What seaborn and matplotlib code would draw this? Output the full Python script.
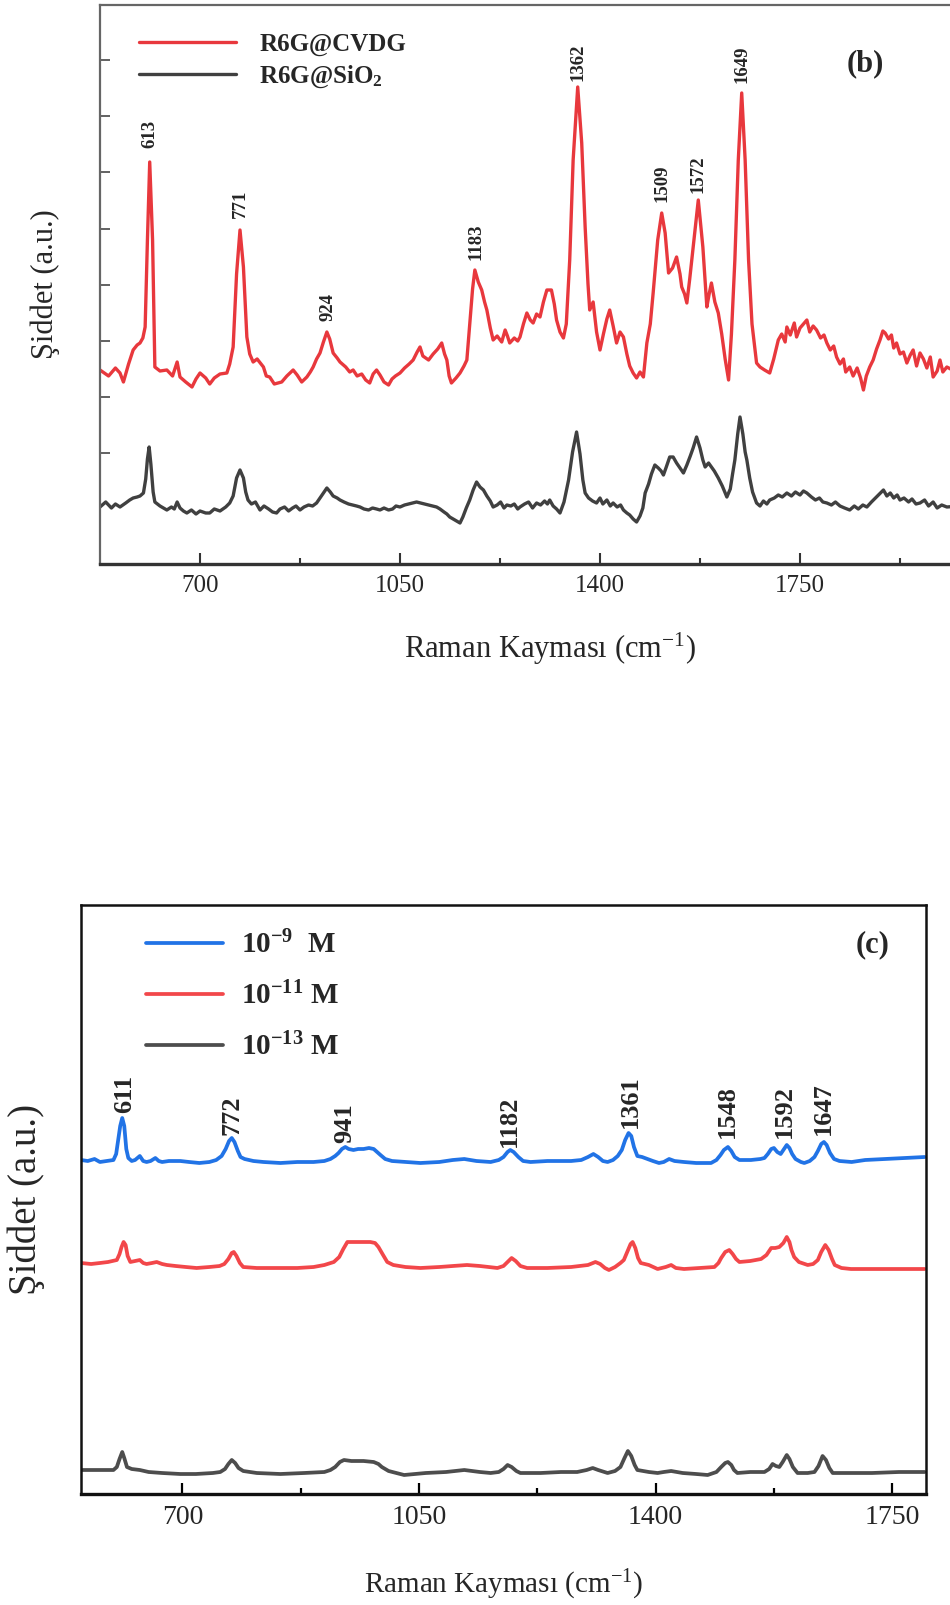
import numpy as np
import matplotlib
matplotlib.use("Agg")
import matplotlib.pyplot as plt
import seaborn as sns

# ---- panel (b): R6G on CVD graphene vs SiO2 ----
b_cvdg_x = [525, 540, 552, 560, 566, 575, 583, 590, 595, 600, 604, 608, 612, 617, 621, 630, 642, 652, 660, 665,
            675, 686, 693, 700, 710, 717, 725, 735, 747, 752, 758, 764, 770, 776, 782, 787, 793, 800, 811, 816,
            822, 830, 843, 852, 863, 870, 878, 887, 893, 898, 904, 910, 916, 922, 927, 933, 940, 945, 955, 962,
            968, 975, 983, 990, 997, 1003, 1009, 1015, 1022, 1030, 1036, 1042, 1050, 1058, 1066, 1073, 1080, 1085, 1090, 1100,
            1108, 1116, 1123, 1128, 1132, 1136, 1140, 1148, 1155, 1162, 1167, 1172, 1177, 1181, 1187, 1193, 1198, 1202, 1208, 1213,
            1220, 1228, 1234, 1238, 1242, 1250, 1256, 1260, 1266, 1272, 1278, 1283, 1289, 1295, 1301, 1307, 1315, 1320, 1324, 1330,
            1336, 1341, 1347, 1353, 1361, 1368, 1374, 1379, 1382, 1388, 1394, 1400, 1406, 1412, 1417, 1423, 1429, 1435, 1441, 1447,
            1452, 1458, 1464, 1470, 1476, 1482, 1488, 1493, 1501, 1508, 1514, 1520, 1527, 1534, 1540, 1543, 1548, 1552, 1557, 1563,
            1572, 1580, 1587, 1591, 1595, 1601, 1607, 1613, 1619, 1625, 1630, 1636, 1642, 1648, 1654, 1660, 1666, 1674, 1680, 1688,
            1697, 1704, 1712, 1718, 1724, 1727, 1733, 1740, 1744, 1750, 1756, 1762, 1767, 1773, 1779, 1786, 1792, 1797, 1803, 1809,
            1814, 1820, 1826, 1830, 1837, 1843, 1850, 1856, 1861, 1866, 1872, 1878, 1884, 1890, 1895, 1899, 1905, 1910, 1914, 1919,
            1925, 1931, 1937, 1943, 1948, 1954, 1960, 1966, 1972, 1978, 1983, 1990, 1995, 2000, 2007, 2030]
b_cvdg_y = [194, 188, 196, 191, 182, 200, 214, 219, 221, 226, 237, 324, 402, 324, 197, 193, 194, 188, 202, 187,
            182, 177, 185, 191, 186, 180, 186, 190, 191, 200, 217, 290, 334, 297, 227, 210, 202, 205, 197, 188,
            187, 180, 182, 188, 194, 189, 182, 187, 192, 197, 205, 211, 222, 232, 225, 211, 206, 202, 197, 192,
            194, 188, 190, 184, 181, 190, 194, 189, 182, 179, 185, 188, 191, 196, 200, 204, 212, 217, 208, 204,
            210, 215, 221, 210, 204, 188, 181, 186, 191, 198, 204, 240, 275, 294, 282, 274, 262, 254, 236, 224,
            228, 222, 234, 228, 221, 226, 223, 227, 240, 251, 244, 241, 250, 247, 262, 274, 274, 260, 244, 232,
            226, 240, 304, 404, 477, 421, 337, 280, 254, 262, 232, 214, 230, 245, 254, 238, 221, 232, 227, 210,
            198, 191, 186, 192, 187, 221, 240, 271, 324, 351, 331, 291, 296, 307, 290, 277, 270, 261, 285, 317,
            364, 317, 257, 270, 281, 262, 251, 230, 205, 184, 230, 304, 404, 471, 404, 304, 240, 201, 197, 194,
            191, 205, 224, 230, 222, 237, 229, 241, 227, 236, 240, 244, 232, 238, 234, 226, 229, 221, 214, 218,
            207, 200, 205, 192, 197, 188, 196, 186, 174, 188, 197, 204, 215, 224, 233, 231, 225, 229, 216, 221,
            210, 212, 201, 209, 214, 198, 211, 205, 196, 207, 187, 193, 204, 192, 197, 190]

b_sio2_x = [525, 535, 545, 552, 560, 570, 577, 583, 590, 595, 601, 605, 608, 611, 614, 618, 621, 630, 642, 650,
            655, 660, 665, 671, 677, 685, 693, 700, 710, 717, 725, 735, 745, 752, 758, 764, 770, 776, 780, 784,
            790, 797, 805, 812, 820, 827, 834, 840, 848, 855, 862, 868, 875, 882, 890, 897, 904, 910, 916, 922,
            928, 933, 940, 945, 952, 960, 967, 974, 980, 987, 995, 1002, 1009, 1015, 1022, 1030, 1037, 1043, 1050, 1058,
            1065, 1072, 1079, 1086, 1093, 1100, 1107, 1114, 1120, 1127, 1132, 1137, 1143, 1149, 1155, 1160, 1166, 1172, 1178, 1184,
            1190, 1196, 1202, 1208, 1213, 1220, 1226, 1232, 1237, 1244, 1250, 1256, 1260, 1268, 1275, 1282, 1289, 1296, 1303, 1308,
            1312, 1318, 1324, 1330, 1337, 1345, 1352, 1359, 1365, 1370, 1374, 1380, 1387, 1394, 1400, 1405, 1412, 1418, 1423, 1430,
            1436, 1441, 1447, 1452, 1458, 1464, 1470, 1475, 1479, 1485, 1490, 1496, 1502, 1507, 1511, 1516, 1522, 1528, 1534, 1540,
            1546, 1552, 1558, 1563, 1569, 1575, 1580, 1584, 1590, 1595, 1600, 1607, 1614, 1622, 1628, 1632, 1636, 1641, 1645, 1650,
            1654, 1657, 1662, 1667, 1674, 1680, 1686, 1692, 1697, 1705, 1712, 1719, 1727, 1735, 1742, 1750, 1756, 1762, 1770, 1777,
            1784, 1790, 1797, 1805, 1812, 1820, 1828, 1837, 1845, 1852, 1860, 1867, 1875, 1882, 1889, 1896, 1902, 1908, 1914, 1920,
            1925, 1932, 1940, 1946, 1953, 1960, 1968, 1975, 1983, 1990, 1998, 2007, 2030]
b_sio2_y = [57, 62, 56, 60, 57, 61, 64, 66, 67, 68, 71, 85, 105, 117, 100, 72, 62, 58, 54, 57,
            55, 62, 56, 53, 51, 54, 50, 53, 51, 51, 55, 53, 57, 61, 68, 86, 94, 86, 72, 64,
            60, 62, 54, 58, 55, 52, 51, 55, 57, 53, 56, 58, 54, 57, 59, 58, 61, 66, 71, 76,
            72, 68, 66, 64, 62, 60, 59, 58, 57, 55, 54, 56, 55, 54, 56, 54, 55, 58, 57, 59,
            60, 61, 62, 61, 60, 59, 58, 57, 55, 52, 50, 47, 45, 43, 41, 47, 56, 64, 74, 82,
            77, 74, 68, 63, 57, 59, 62, 56, 59, 58, 60, 55, 57, 60, 62, 56, 61, 59, 63, 60,
            64, 58, 55, 51, 62, 84, 112, 132, 110, 84, 71, 66, 63, 61, 66, 60, 64, 58, 61, 57,
            59, 54, 51, 49, 45, 42, 48, 56, 71, 80, 90, 99, 96, 93, 89, 97, 107, 107, 101, 96,
            91, 99, 108, 116, 127, 116, 104, 97, 101, 97, 93, 86, 78, 67, 75, 90, 104, 130, 147, 130,
            112, 104, 86, 72, 61, 58, 63, 60, 64, 66, 69, 67, 71, 68, 72, 69, 73, 71, 67, 64,
            66, 62, 61, 59, 62, 58, 56, 54, 58, 55, 59, 57, 62, 66, 70, 74, 68, 71, 66, 69,
            64, 66, 62, 65, 60, 61, 64, 58, 62, 56, 59, 57, 58]

b_peaks = ["613", "771", "924", "1183", "1362", "1509", "1572", "1649"]
b_peak_label_y = [416, 346, 243, 304, 483, 362, 371, 481]

# ---- panel (c): concentration series ----
c_1e9_x = [550, 560, 570, 578, 588, 598, 602, 605, 608, 611, 614, 617, 620, 625, 630, 637, 642, 647, 653, 660,
           665, 670, 680, 697, 710, 725, 740, 750, 758, 764, 769, 773, 777, 782, 786, 792, 805, 820, 845, 870,
           894, 910, 919, 926, 931, 936, 941, 946, 953, 960, 968, 976, 983, 988, 993, 1000, 1010, 1030, 1052, 1080,
           1100, 1117, 1135, 1156, 1168, 1175, 1181, 1185, 1190, 1197, 1204, 1215, 1240, 1275, 1290, 1300, 1308, 1315, 1322, 1329,
           1337, 1344, 1350, 1355, 1360, 1364, 1368, 1373, 1380, 1388, 1396, 1405, 1412, 1420, 1428, 1442, 1460, 1475, 1482, 1490,
           1496, 1501, 1507, 1512, 1517, 1524, 1541, 1555, 1561, 1566, 1571, 1575, 1580, 1585, 1590, 1594, 1598, 1602, 1607, 1615,
           1620, 1628, 1635, 1640, 1645, 1649, 1653, 1658, 1664, 1672, 1690, 1710, 1739, 1770, 1798]
c_1e9_y = [334, 333, 335, 332, 333, 334, 340, 354, 368, 376, 368, 345, 336, 333, 334, 338, 333, 332, 333, 336,
           333, 332, 333, 333, 332, 331, 332, 334, 338, 345, 353, 356, 352, 343, 337, 335, 333, 332, 331, 332,
           332, 333, 335, 338, 341, 345, 347, 345, 344, 345, 345, 346, 345, 342, 339, 335, 333, 332, 331, 332,
           334, 335, 333, 332, 334, 337, 342, 344, 342, 337, 333, 332, 333, 333, 334, 337, 340, 337, 333, 332,
           334, 338, 344, 354, 361, 358, 347, 338, 337, 335, 333, 331, 332, 335, 333, 332, 331, 331, 331, 334,
           339, 344, 347, 343, 337, 334, 334, 335, 336, 340, 345, 346, 342, 340, 345, 349, 346, 340, 335, 332,
           331, 333, 337, 343, 350, 352, 349, 341, 335, 333, 332, 334, 335, 336, 337]

c_1e11_x = [550, 565, 578, 590, 603, 607, 610, 613, 616, 619, 623, 630, 637, 642, 647, 655, 662, 670, 677, 690,
            705, 721, 740, 755, 762, 768, 773, 776, 780, 785, 790, 810, 845, 870, 894, 910, 924, 932, 938, 944,
            955, 968, 978, 985, 990, 996, 1003, 1012, 1030, 1052, 1080, 1100, 1121, 1140, 1166, 1175, 1181, 1187, 1193, 1200,
            1210, 1240, 1275, 1300, 1311, 1318, 1325, 1331, 1340, 1348, 1353, 1358, 1363, 1366, 1370, 1374, 1378, 1390, 1403, 1415,
            1423, 1430, 1442, 1465, 1487, 1493, 1497, 1503, 1509, 1514, 1519, 1524, 1540, 1556, 1564, 1571, 1577, 1583, 1589, 1594,
            1598, 1601, 1605, 1612, 1625, 1633, 1640, 1645, 1651, 1656, 1661, 1665, 1675, 1689, 1720, 1760, 1798]
c_1e11_y = [231, 230, 231, 232, 234, 240, 247, 252, 249, 238, 232, 233, 234, 231, 230, 231, 232, 230, 229, 228,
            227, 226, 227, 228, 230, 235, 241, 242, 238, 231, 227, 226, 226, 226, 227, 229, 232, 237, 245, 252,
            252, 252, 252, 251, 247, 240, 232, 229, 227, 226, 227, 228, 229, 228, 226, 228, 232, 236, 233, 228,
            226, 226, 227, 229, 232, 230, 226, 224, 227, 231, 234, 242, 250, 252, 246, 236, 231, 229, 225, 227,
            229, 226, 225, 226, 227, 231, 236, 242, 244, 240, 235, 232, 233, 235, 239, 246, 246, 247, 251, 257,
            252, 244, 237, 232, 229, 230, 234, 242, 249, 244, 235, 229, 226, 225, 225, 225, 225]

c_1e13_x = [550, 570, 590, 598, 603, 607, 611, 614, 618, 625, 637, 650, 670, 697, 720, 745, 756, 763, 768, 773,
            778, 783, 790, 810, 845, 880, 910, 919, 926, 933, 939, 950, 968, 983, 990, 995, 1005, 1028, 1060, 1090,
            1117, 1140, 1156, 1168, 1175, 1181, 1187, 1194, 1200, 1230, 1260, 1284, 1298, 1307, 1315, 1329, 1340, 1348, 1354, 1359,
            1364, 1369, 1373, 1390, 1403, 1412, 1423, 1440, 1460, 1477, 1490, 1497, 1503, 1507, 1512, 1516, 1521, 1540, 1561, 1568,
            1573, 1578, 1583, 1588, 1594, 1598, 1603, 1610, 1625, 1635, 1641, 1647, 1652, 1657, 1662, 1680, 1720, 1760, 1798]
c_1e13_y = [24, 24, 24, 24, 27, 35, 42, 36, 27, 25, 24, 22, 21, 20, 20, 21, 22, 25, 30, 34,
            31, 26, 23, 21, 20, 21, 22, 24, 27, 32, 34, 33, 33, 32, 30, 27, 23, 19, 21, 22,
            24, 22, 21, 22, 25, 29, 27, 23, 21, 21, 22, 22, 24, 26, 24, 21, 23, 27, 36, 43,
            38, 29, 24, 22, 21, 22, 23, 21, 20, 19, 22, 27, 31, 32, 29, 24, 21, 22, 22, 25,
            30, 28, 27, 32, 39, 35, 27, 21, 21, 22, 28, 38, 34, 26, 21, 21, 21, 22, 22]

c_peaks = ["611", "772", "941", "1182", "1361", "1548", "1592", "1647"]
c_peak_label_x = [614, 774, 940, 1184, 1363, 1506, 1591, 1648]
c_peak_label_y = [381, 359, 351, 347, 366, 356, 356, 359]

sns.set_theme(style="ticks")
plt.rcParams["font.family"] = ["Liberation Serif", "DejaVu Serif"]
plt.rcParams["mathtext.default"] = "regular"

fig = plt.figure(figsize=(9.5, 16.05), dpi=100)
fig.patch.set_facecolor("white")

# ---------------- top panel (b) ----------------
ax1 = fig.add_axes([100 / 950, 1 - 564 / 1605, 900 / 950, 559 / 1605])
sns.lineplot(x=b_cvdg_x, y=b_cvdg_y, ax=ax1, color="#e8383d", lw=2.4, sort=False, estimator=None, label="R6G@CVDG")
sns.lineplot(x=b_sio2_x, y=b_sio2_y, ax=ax1, color="#404040", lw=2.4, sort=False, estimator=None, label="R6G@SiO$_2$")
ax1.set_xlim(525, 2100)
ax1.set_ylim(0, 559)
ax1.set_xticks([700, 1050, 1400, 1750])
ax1.set_xticks([875, 1225, 1575, 1925], minor=True)
ax1.set_yticks(np.arange(110.6, 505, 56.2))
ax1.set_yticklabels([])
ax1.tick_params(axis="x", which="major", direction="in", length=8, width=1.5, labelsize=18, pad=8, color="#333333")
ax1.tick_params(axis="x", which="minor", direction="in", length=4.5, width=1.5, color="#333333")
ax1.tick_params(axis="y", which="major", direction="in", length=7, width=1.3, color="#555555")
for s in ["left", "top"]:
    ax1.spines[s].set_color("#666666")
    ax1.spines[s].set_linewidth(1.6)
ax1.spines["bottom"].set_color("#333333")
ax1.spines["bottom"].set_linewidth(2.4)
ax1.spines["right"].set_visible(False)
ax1.set_xlabel("Raman Kayması (cm$^{-1}$)", fontsize=22)
ax1.xaxis.set_label_coords(0.5, -0.12)
ax1.set_ylabel("Şiddet (a.u.)", fontsize=22)
ax1.yaxis.set_label_coords(-0.044, 0.5)
for lab, yy in zip(b_peaks, b_peak_label_y):
    ax1.text(int(lab), yy, lab, rotation=90, ha="center", va="bottom", fontsize=13.5, fontweight="bold")
fig.text(865 / 950, 1 - 64 / 1605, "(b)", ha="center", va="center", fontsize=22, fontweight="bold")
ax1.legend(loc="upper left", bbox_to_anchor=(0.043, 0.951), frameon=False, borderpad=0, borderaxespad=0,
           handlelength=3.9, handletextpad=0.92, labelspacing=0.3,
           prop={"family": "Liberation Serif", "weight": "bold", "size": 18})

# ---------------- bottom panel (c) ----------------
ax2 = fig.add_axes([81 / 950, 111 / 1605, 845 / 950, 589 / 1605])
sns.lineplot(x=c_1e9_x, y=c_1e9_y, ax=ax2, color="#2173e6", lw=2.7, sort=False, estimator=None, label="10$^{-9}$  M")
sns.lineplot(x=c_1e11_x, y=c_1e11_y, ax=ax2, color="#f2474a", lw=2.7, sort=False, estimator=None, label="10$^{-11}$ M")
sns.lineplot(x=c_1e13_x, y=c_1e13_y, ax=ax2, color="#4d4d4d", lw=2.7, sort=False, estimator=None, label="10$^{-13}$ M")
ax2.set_xlim(550, 1800)
ax2.set_ylim(0, 589)
ax2.set_xticks([700, 1050, 1400, 1750])
ax2.set_xticks([875, 1225, 1575], minor=True)
ax2.set_yticks([])
ax2.tick_params(axis="x", which="major", direction="in", length=8, width=1.6, labelsize=20, pad=8, color="black")
ax2.tick_params(axis="x", which="minor", direction="in", length=4.5, width=1.6, color="black")
for s in ["left", "right", "top"]:
    ax2.spines[s].set_color("#111111")
    ax2.spines[s].set_linewidth(1.8)
ax2.spines["bottom"].set_color("#111111")
ax2.spines["bottom"].set_linewidth(2.4)
ax2.set_xlabel("Raman Kayması (cm$^{-1}$)", fontsize=21)
ax2.xaxis.set_label_coords(0.5, -0.125)
ax2.set_ylabel("Şiddet (a.u.)", fontsize=28)
ax2.yaxis.set_label_coords(-0.043, 0.5)
for lab, xx, yy in zip(c_peaks, c_peak_label_x, c_peak_label_y):
    ax2.text(xx, yy, lab, rotation=90, ha="center", va="bottom", fontsize=19, fontweight="bold")
fig.text(873 / 950, 1 - 945 / 1605, "(c)", ha="center", va="center", fontsize=22, fontweight="bold")
ax2.legend(loc="upper left", bbox_to_anchor=(0.077, 0.956), frameon=False, borderpad=0, borderaxespad=0,
           handlelength=2.64, handletextpad=0.62, labelspacing=0.77,
           prop={"family": "Liberation Serif", "weight": "bold", "size": 21})

fig.savefig("out.png", dpi=100, facecolor="white")
